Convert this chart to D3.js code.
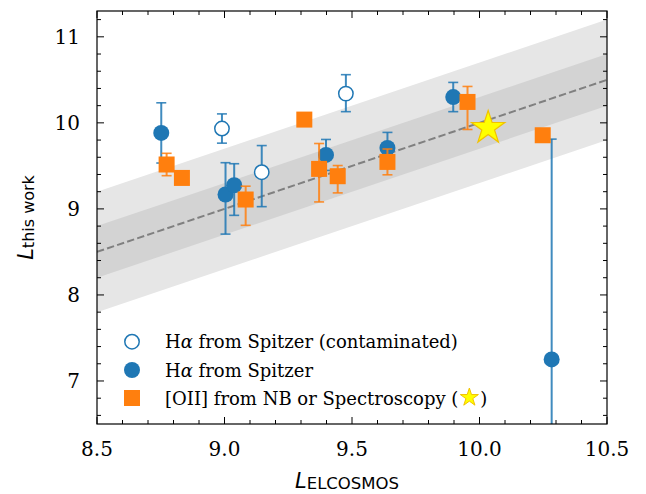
<!DOCTYPE html>
<html>
<head>
<meta charset="utf-8">
<script src="https://cdn.jsdelivr.net/npm/d3@7"></script>
<style>
  body { margin: 0; background: #fff; }
  svg { display: block; }
</style>
</head>
<body>
<div id="chart"></div>
<script>
// H-alpha from Spitzer, contaminated (open circles)
const contX = [8.99, 9.146, 9.476];
const contY = [9.934, 9.426, 10.34];
const contErrLo = [0.17, 0.40, 0.21];
const contErrHi = [0.17, 0.31, 0.22];

// H-alpha from Spitzer (filled circles)
const haX = [8.752, 9.004, 9.038, 9.398, 9.639, 9.897, 10.283];
const haY = [9.883, 9.167, 9.275, 9.627, 9.709, 10.30, 7.251];
const haErrLo = [0.35, 0.46, 0.35, 0.18, 0.18, 0.17, 2.56];
const haErrHi = [0.35, 0.37, 0.25, 0.18, 0.18, 0.17, 2.56];

// [OII] from NB or spectroscopy (squares)
const oiiX = [8.773, 8.833, 9.083, 9.313, 9.371, 9.444, 9.639, 9.953, 10.248];
const oiiY = [9.516, 9.36, 9.109, 10.038, 9.465, 9.38, 9.546, 10.243, 9.856];
const oiiErrLo = [0.13, 0.05, 0.30, 0.05, 0.384, 0.194, 0.15, 0.32, 0.05];
const oiiErrHi = [0.13, 0.05, 0.155, 0.05, 0.295, 0.124, 0.15, 0.18, 0.05];

// spectroscopic source (star)
const starX = [10.034];
const starY = [9.953];

// one-to-one line with scatter bands
const lineX = [8.5, 10.5];
const innerBand = 0.3;
const outerBand = 0.7;

const xTicks = [8.5, 9.0, 9.5, 10.0, 10.5];
const yTicks = [7, 8, 9, 10, 11];

const legendLabels = [
  "H\u03b1 from Spitzer (contaminated)",
  "H\u03b1 from Spitzer",
  "[OII] from NB or Spectroscopy ("
];

const width = 646, height = 494;
const margin = { top: 11, right: 39, bottom: 70, left: 97 };
const blue = "#1f77b4", orange = "#ff7f0e";

const svg = d3.select("#chart").append("svg")
  .attr("width", width).attr("height", height);

const x = d3.scaleLinear().domain([8.5, 10.5]).range([margin.left, width - margin.right]);
const y = d3.scaleLinear().domain([6.5, 11.3]).range([height - margin.bottom, margin.top]);

svg.append("defs").append("clipPath").attr("id", "clip")
  .append("rect")
  .attr("x", x.range()[0]).attr("y", y.range()[1])
  .attr("width", x.range()[1] - x.range()[0])
  .attr("height", y.range()[0] - y.range()[1]);

const plot = svg.append("g").attr("clip-path", "url(#clip)");

// bands
function band(off) {
  return d3.area()
    .x(d => x(d))
    .y0(d => y(d - off))
    .y1(d => y(d + off));
}
plot.append("path").datum(lineX).attr("d", band(outerBand)).attr("fill", "#e6e6e6");
plot.append("path").datum(lineX).attr("d", band(innerBand)).attr("fill", "#d3d3d3");
plot.append("path").datum(lineX)
  .attr("d", d3.line().x(d => x(d)).y(d => y(d)))
  .attr("stroke", "#808080").attr("stroke-width", 2)
  .attr("stroke-dasharray", "7.4 3.2").attr("fill", "none");

// error bars
function errorBars(xs, ys, lo, hi, color) {
  const g = plot.append("g").attr("stroke", color).attr("stroke-opacity", 0.85);
  xs.forEach((xv, i) => {
    const px = x(xv), top = y(ys[i] + hi[i]), bot = y(ys[i] - lo[i]);
    g.append("line").attr("x1", px).attr("x2", px).attr("y1", top).attr("y2", bot)
      .attr("stroke-width", 2);
    [top, bot].forEach(py => {
      g.append("line").attr("x1", px - 5).attr("x2", px + 5).attr("y1", py).attr("y2", py)
        .attr("stroke-width", 1.6);
    });
  });
}

errorBars(contX, contY, contErrLo, contErrHi, blue);
errorBars(haX, haY, haErrLo, haErrHi, blue);

plot.append("g").selectAll("circle").data(contX).join("circle")
  .attr("cx", d => x(d)).attr("cy", (d, i) => y(contY[i])).attr("r", 7.2)
  .attr("fill", "#fff").attr("stroke", blue).attr("stroke-width", 1.5);

plot.append("g").selectAll("circle").data(haX).join("circle")
  .attr("cx", d => x(d)).attr("cy", (d, i) => y(haY[i])).attr("r", 8)
  .attr("fill", blue);

errorBars(oiiX, oiiY, oiiErrLo, oiiErrHi, orange);

plot.append("g").selectAll("rect").data(oiiX).join("rect")
  .attr("x", d => x(d) - 8).attr("y", (d, i) => y(oiiY[i]) - 8)
  .attr("width", 16).attr("height", 16)
  .attr("fill", orange);

const star = (r) => {
  const pts = [];
  for (let k = 0; k < 10; k++) {
    const a = -Math.PI / 2 + k * Math.PI / 5;
    const rr = k % 2 === 0 ? r : r * 0.382;
    pts.push([rr * Math.cos(a), rr * Math.sin(a)]);
  }
  return "M" + pts.map(p => p.join(",")).join("L") + "Z";
};

plot.append("g").selectAll("path").data(starX).join("path")
  .attr("d", star(17.5))
  .attr("transform", (d, i) => `translate(${x(d)},${y(starY[i]) + 1})`)
  .attr("fill", "#ffff00").attr("stroke", "#f2c200").attr("stroke-width", 1.2);

// axes: ticks inward on all sides
const fmtX = d3.format(".1f");
const axesG = svg.append("g").attr("stroke", "#000").attr("fill", "none");
const [x0, x1] = x.range();
const [y0, y1] = y.range();

const xMinor = d3.range(85, 106).map(v => v / 10);
const yMinor = d3.range(33, 57).map(v => v / 5);

xMinor.forEach(v => {
  const major = xTicks.some(t => Math.abs(t - v) < 1e-6);
  const len = major ? 7 : 4;
  axesG.append("line").attr("x1", x(v)).attr("x2", x(v)).attr("y1", y0).attr("y2", y0 - len);
  axesG.append("line").attr("x1", x(v)).attr("x2", x(v)).attr("y1", y1).attr("y2", y1 + len);
});
yMinor.forEach(v => {
  const major = yTicks.some(t => Math.abs(t - v) < 1e-6);
  const len = major ? 7 : 4;
  axesG.append("line").attr("x1", x0).attr("x2", x0 + len).attr("y1", y(v)).attr("y2", y(v));
  axesG.append("line").attr("x1", x1).attr("x2", x1 - len).attr("y1", y(v)).attr("y2", y(v));
});
axesG.append("rect").attr("x", x0).attr("y", y1).attr("width", x1 - x0).attr("height", y0 - y1)
  .attr("stroke-width", 1.2);

const tickFont = "DejaVu Serif";
svg.append("g").selectAll("text").data(xTicks).join("text")
  .attr("x", d => x(d)).attr("y", y0 + 32)
  .attr("text-anchor", "middle")
  .attr("font-family", tickFont).attr("font-size", 20)
  .text(d => fmtX(d));

svg.append("g").selectAll("text").data(yTicks).join("text")
  .attr("x", x0 - 17).attr("y", d => y(d) + 7)
  .attr("text-anchor", "end")
  .attr("font-family", tickFont).attr("font-size", 20)
  .text(d => d);

// axis labels
const xl = svg.append("text").attr("x", 295).attr("y", 488)
  .attr("font-family", "DejaVu Sans").attr("font-size", 21);
xl.append("tspan").attr("font-style", "italic").text("L");
xl.append("tspan").attr("font-size", 16.5).attr("dy", 1).text("ELCOSMOS");

const yl = svg.append("text").attr("transform", `translate(33,${(y0 + y1) / 2}) rotate(-90)`)
  .attr("text-anchor", "middle")
  .attr("font-family", "DejaVu Sans").attr("font-size", 21);
yl.append("tspan").attr("font-style", "italic").text("L");
yl.append("tspan").attr("font-size", 16).attr("dy", 1).text("this work");

// legend
const legX = 132, legY = [341.7, 370, 398], legTextX = 165;
const leg = svg.append("g");
leg.append("circle").attr("cx", legX).attr("cy", legY[0]).attr("r", 7.2)
  .attr("fill", "#fff").attr("stroke", blue).attr("stroke-width", 1.5);
leg.append("circle").attr("cx", legX).attr("cy", legY[1]).attr("r", 8).attr("fill", blue);
leg.append("rect").attr("x", legX - 8).attr("y", legY[2] - 8).attr("width", 16).attr("height", 16)
  .attr("fill", orange);

legendLabels.forEach((t, i) => {
  const txt = leg.append("text").attr("x", legTextX).attr("y", legY[i] + 6.5)
    .attr("font-family", "DejaVu Serif").attr("font-size", 18);
  if (t.startsWith("H\u03b1")) {
    txt.append("tspan").text("H");
    txt.append("tspan").attr("font-style", "italic").text("\u03b1");
    txt.append("tspan").text(t.slice(2));
  } else {
    txt.text(t);
  }
  if (i === 2) {
    const w = txt.node().getComputedTextLength();
    leg.append("path").attr("d", star(9.5))
      .attr("transform", `translate(${legTextX + w + 11},${legY[i] - 0.5})`)
      .attr("fill", "#ffff00").attr("stroke", "#f2c200").attr("stroke-width", 1);
    leg.append("text").attr("x", legTextX + w + 22).attr("y", legY[i] + 6.5)
      .attr("font-family", "DejaVu Serif").attr("font-size", 18).text(")");
  }
});
</script>
</body>
</html>
